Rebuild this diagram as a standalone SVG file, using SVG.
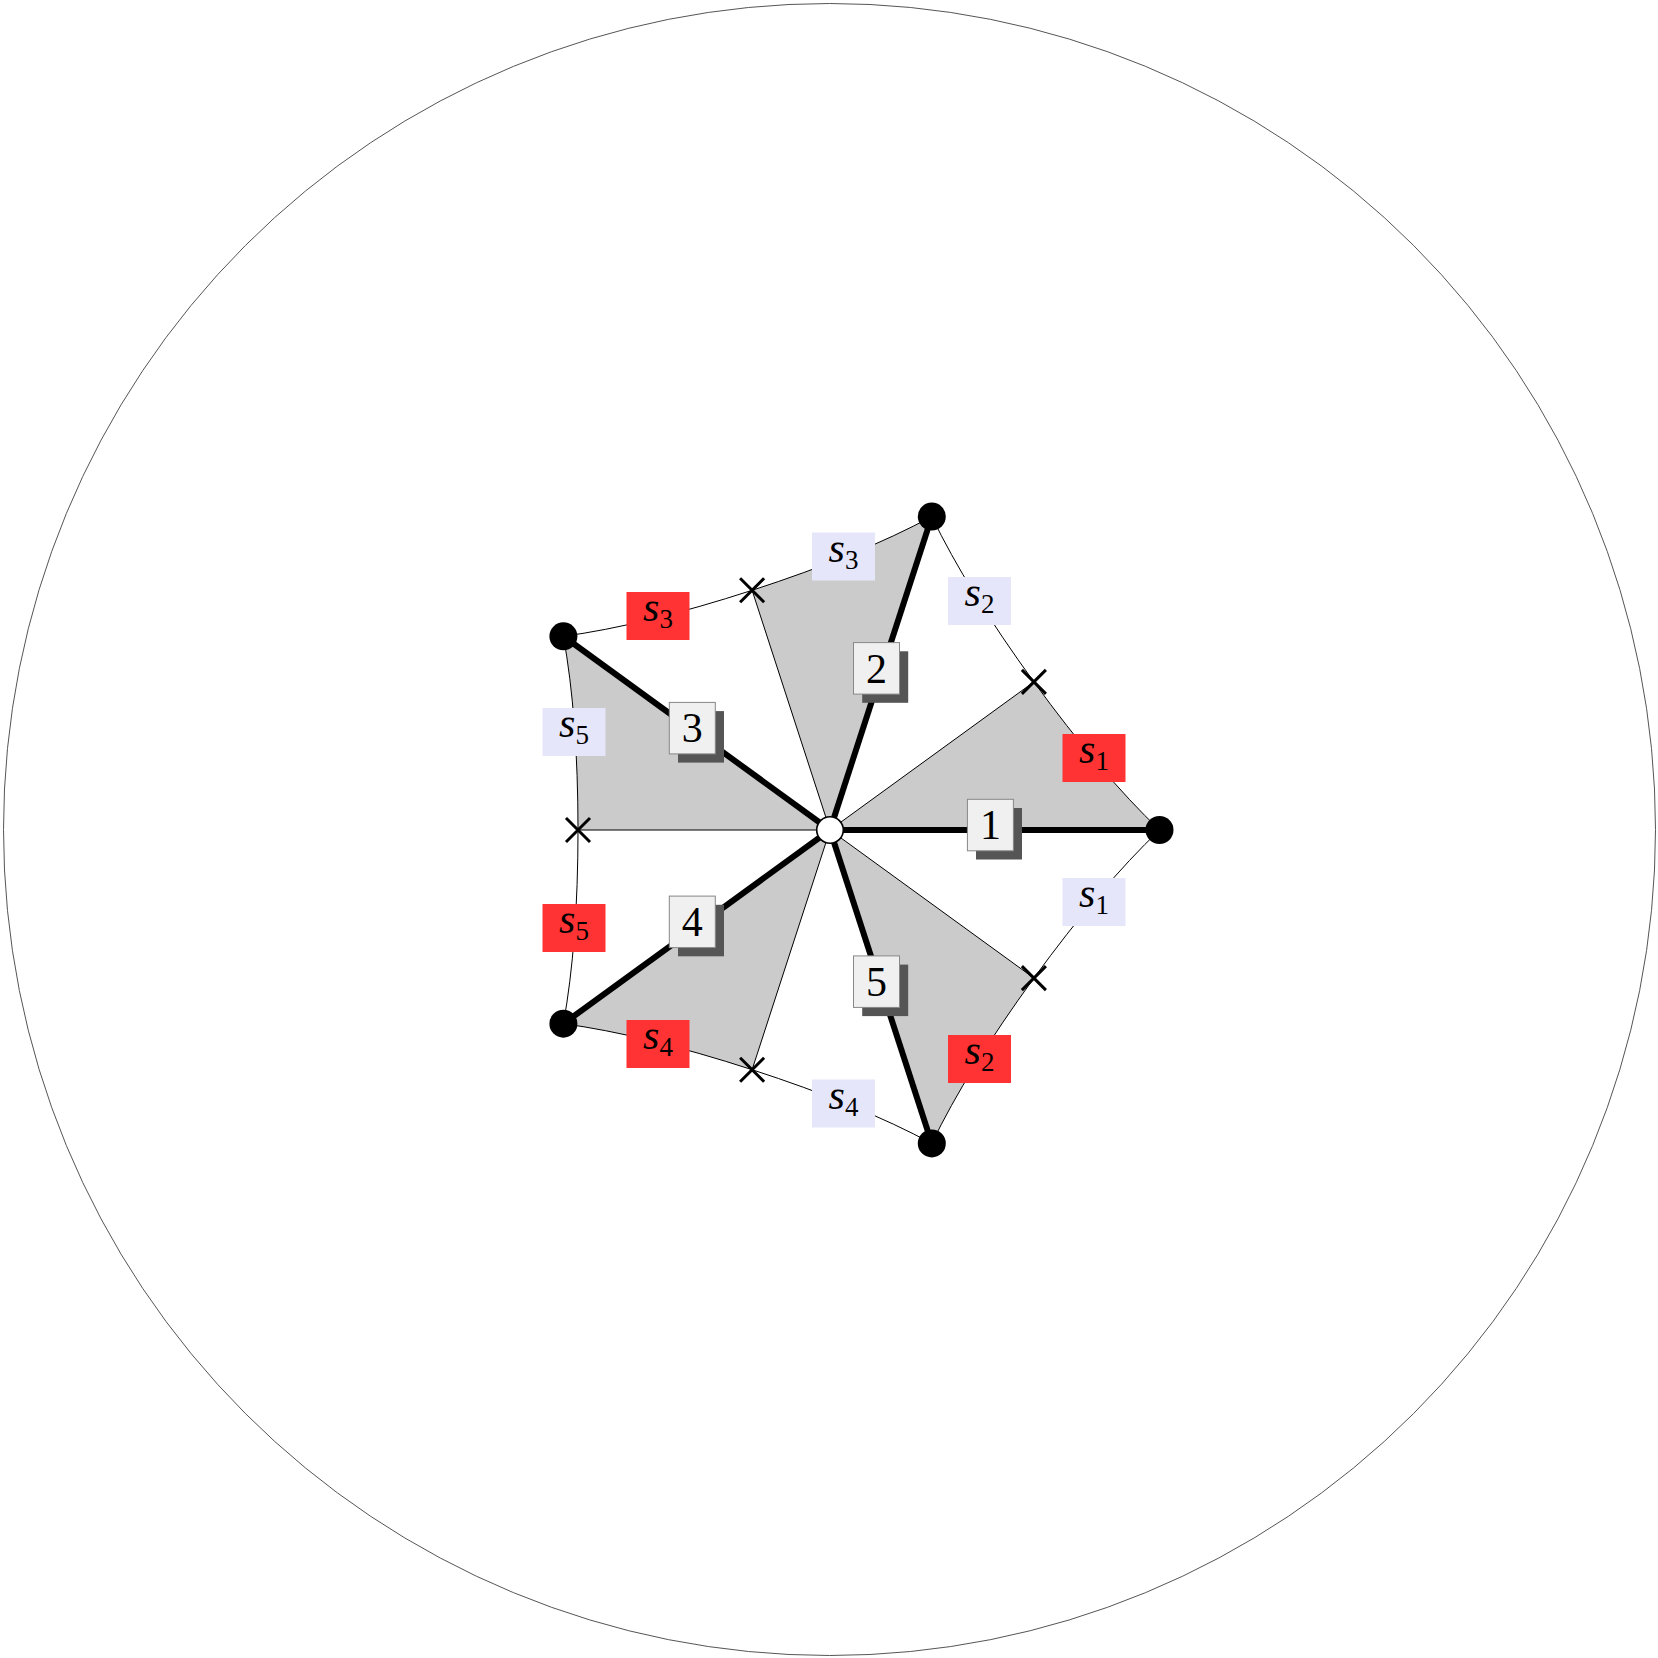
<svg xmlns="http://www.w3.org/2000/svg" width="1658" height="1658" viewBox="0 0 1658 1658">
<style>
.bg{fill:#fff}
.outer{fill:none;stroke:#555;stroke-width:1}
.sector{fill:#cbcbcb;stroke:none}
.thin{fill:none;stroke:#000;stroke-width:1}
.thick{fill:none;stroke:#000;stroke-width:6}
.cross{stroke:#000;stroke-width:3;fill:none}
.dot{fill:#000}
.hub{fill:#fff;stroke:#000;stroke-width:1.6}
.nbox{fill:#f0f0f0;stroke:#888;stroke-width:1}
.nshadow{fill:#555}
.ntext{font-family:"Liberation Serif",serif;font-size:42px;text-anchor:middle;fill:#000}
.red{fill:#ff3333}
.blue{fill:#e6e6fa}
.stext{font-family:"Liberation Serif",serif;font-size:42px;text-anchor:middle;fill:#000}
.si{font-style:italic}
.sub{font-size:27px}
</style>
<rect class="bg" x="0" y="0" width="1658" height="1658"/>
<circle class="outer" cx="829.5" cy="829.5" r="826"/>

<g id="sectors">
<path class="sector" d="M830,830 L1159.5,830 Q1100.5,773.5 1033.9,681.9 Z"/>
<path class="sector" d="M830,830 L931.8,516.6 Q859.9,555.3 752.1,590.3 Z"/>
<path class="sector" d="M830,830 L563.4,636.3 Q578,716.7 578,830 Z"/>
<path class="sector" d="M830,830 L563.4,1023.7 Q644.4,1034.7 752.1,1069.7 Z"/>
<path class="sector" d="M830,830 L931.8,1143.4 Q967.3,1069.8 1033.9,978.1 Z"/>
</g>

<g id="connectors">
<line class="thin" x1="830" y1="830" x2="1033.9" y2="681.9"/>
<line class="thin" x1="830" y1="830" x2="752.1" y2="590.3"/>
<line class="thin" x1="830" y1="830" x2="578" y2="830"/>
<line class="thin" x1="830" y1="830" x2="752.1" y2="1069.7"/>
<line class="thin" x1="830" y1="830" x2="1033.9" y2="978.1"/>
<path class="thin" d="M1033.9,681.9 Q1100.5,773.5 1159.5,830"/>
<path class="thin" d="M1033.9,978.1 Q1100.5,886.5 1159.5,830"/>
<path class="thin" d="M1033.9,681.9 Q967.3,590.2 931.8,516.6"/>
<path class="thin" d="M752.1,590.3 Q859.9,555.3 931.8,516.6"/>
<path class="thin" d="M752.1,590.3 Q644.4,625.3 563.4,636.3"/>
<path class="thin" d="M578,830 Q578,716.7 563.4,636.3"/>
<path class="thin" d="M578,830 Q578,943.3 563.4,1023.7"/>
<path class="thin" d="M752.1,1069.7 Q644.4,1034.7 563.4,1023.7"/>
<path class="thin" d="M752.1,1069.7 Q859.9,1104.7 931.8,1143.4"/>
<path class="thin" d="M1033.9,978.1 Q967.3,1069.8 931.8,1143.4"/>
<line class="thick" x1="830" y1="830" x2="1159.5" y2="830"/>
<line class="thick" x1="830" y1="830" x2="931.8" y2="516.6"/>
<line class="thick" x1="830" y1="830" x2="563.4" y2="636.3"/>
<line class="thick" x1="830" y1="830" x2="563.4" y2="1023.7"/>
<line class="thick" x1="830" y1="830" x2="931.8" y2="1143.4"/>
</g>

<g id="edge-labels">
<g id="s1-red"><rect class="red" x="1062.5" y="734" width="63" height="48"/><text class="stext" x="1094" y="763"><tspan class="si">s</tspan><tspan class="sub" dy="7">1</tspan></text></g>
<g id="s1-blue"><rect class="blue" x="1062.5" y="878" width="63" height="48"/><text class="stext" x="1094" y="907"><tspan class="si">s</tspan><tspan class="sub" dy="7">1</tspan></text></g>
<g id="s2-blue"><rect class="blue" x="948" y="577" width="63" height="48"/><text class="stext" x="979.5" y="606"><tspan class="si">s</tspan><tspan class="sub" dy="7">2</tspan></text></g>
<g id="s2-red"><rect class="red" x="948" y="1035" width="63" height="48"/><text class="stext" x="979.5" y="1064"><tspan class="si">s</tspan><tspan class="sub" dy="7">2</tspan></text></g>
<g id="s3-blue"><rect class="blue" x="812" y="532.5" width="63" height="48"/><text class="stext" x="843.5" y="561.5"><tspan class="si">s</tspan><tspan class="sub" dy="7">3</tspan></text></g>
<g id="s4-blue"><rect class="blue" x="812" y="1079.5" width="63" height="48"/><text class="stext" x="843.5" y="1108.5"><tspan class="si">s</tspan><tspan class="sub" dy="7">4</tspan></text></g>
<g id="s3-red"><rect class="red" x="626.5" y="592" width="63" height="48"/><text class="stext" x="658" y="621"><tspan class="si">s</tspan><tspan class="sub" dy="7">3</tspan></text></g>
<g id="s4-red"><rect class="red" x="626.5" y="1020" width="63" height="48"/><text class="stext" x="658" y="1049"><tspan class="si">s</tspan><tspan class="sub" dy="7">4</tspan></text></g>
<g id="s5-blue"><rect class="blue" x="542.5" y="708" width="63" height="48"/><text class="stext" x="574" y="737"><tspan class="si">s</tspan><tspan class="sub" dy="7">5</tspan></text></g>
<g id="s5-red"><rect class="red" x="542.5" y="904" width="63" height="48"/><text class="stext" x="574" y="933"><tspan class="si">s</tspan><tspan class="sub" dy="7">5</tspan></text></g>
</g>

<g id="crosses">
<path class="cross" d="M1021.9,669.9 L1045.9,693.9 M1021.9,693.9 L1045.9,669.9"/>
<path class="cross" d="M740.1,578.3 L764.1,602.3 M740.1,602.3 L764.1,578.3"/>
<path class="cross" d="M566,818 L590,842 M566,842 L590,818"/>
<path class="cross" d="M740.1,1057.7 L764.1,1081.7 M740.1,1081.7 L764.1,1057.7"/>
<path class="cross" d="M1021.9,966.1 L1045.9,990.1 M1021.9,990.1 L1045.9,966.1"/>
</g>

<g id="dot-0"><circle class="dot" cx="1159.5" cy="830" r="14"/></g>
<g id="dot-72"><circle class="dot" cx="931.8" cy="516.6" r="14"/></g>
<g id="dot-144"><circle class="dot" cx="563.4" cy="636.3" r="14"/></g>
<g id="dot-216"><circle class="dot" cx="563.4" cy="1023.7" r="14"/></g>
<g id="dot-288"><circle class="dot" cx="931.8" cy="1143.4" r="14"/></g>
<g id="hub"><circle class="hub" cx="830" cy="830" r="13.3"/></g>

<g id="box-1"><rect class="nshadow" x="976" y="808" width="46" height="51.5"/><rect class="nbox" x="967.4" y="799.3" width="46" height="51.5"/><text class="ntext" x="990.4" y="839.3">1</text></g>
<g id="box-2"><rect class="nshadow" x="862.2" y="651.3" width="46" height="51.5"/><rect class="nbox" x="853.5" y="642.6" width="46" height="51.5"/><text class="ntext" x="876.5" y="682.6">2</text></g>
<g id="box-3"><rect class="nshadow" x="678" y="711.1" width="46" height="51.5"/><rect class="nbox" x="669.3" y="702.4" width="46" height="51.5"/><text class="ntext" x="692.3" y="742.4">3</text></g>
<g id="box-4"><rect class="nshadow" x="678" y="904.8" width="46" height="51.5"/><rect class="nbox" x="669.3" y="896.1" width="46" height="51.5"/><text class="ntext" x="692.3" y="936.1">4</text></g>
<g id="box-5"><rect class="nshadow" x="862.2" y="964.6" width="46" height="51.5"/><rect class="nbox" x="853.5" y="955.9" width="46" height="51.5"/><text class="ntext" x="876.5" y="995.9">5</text></g>
</svg>
